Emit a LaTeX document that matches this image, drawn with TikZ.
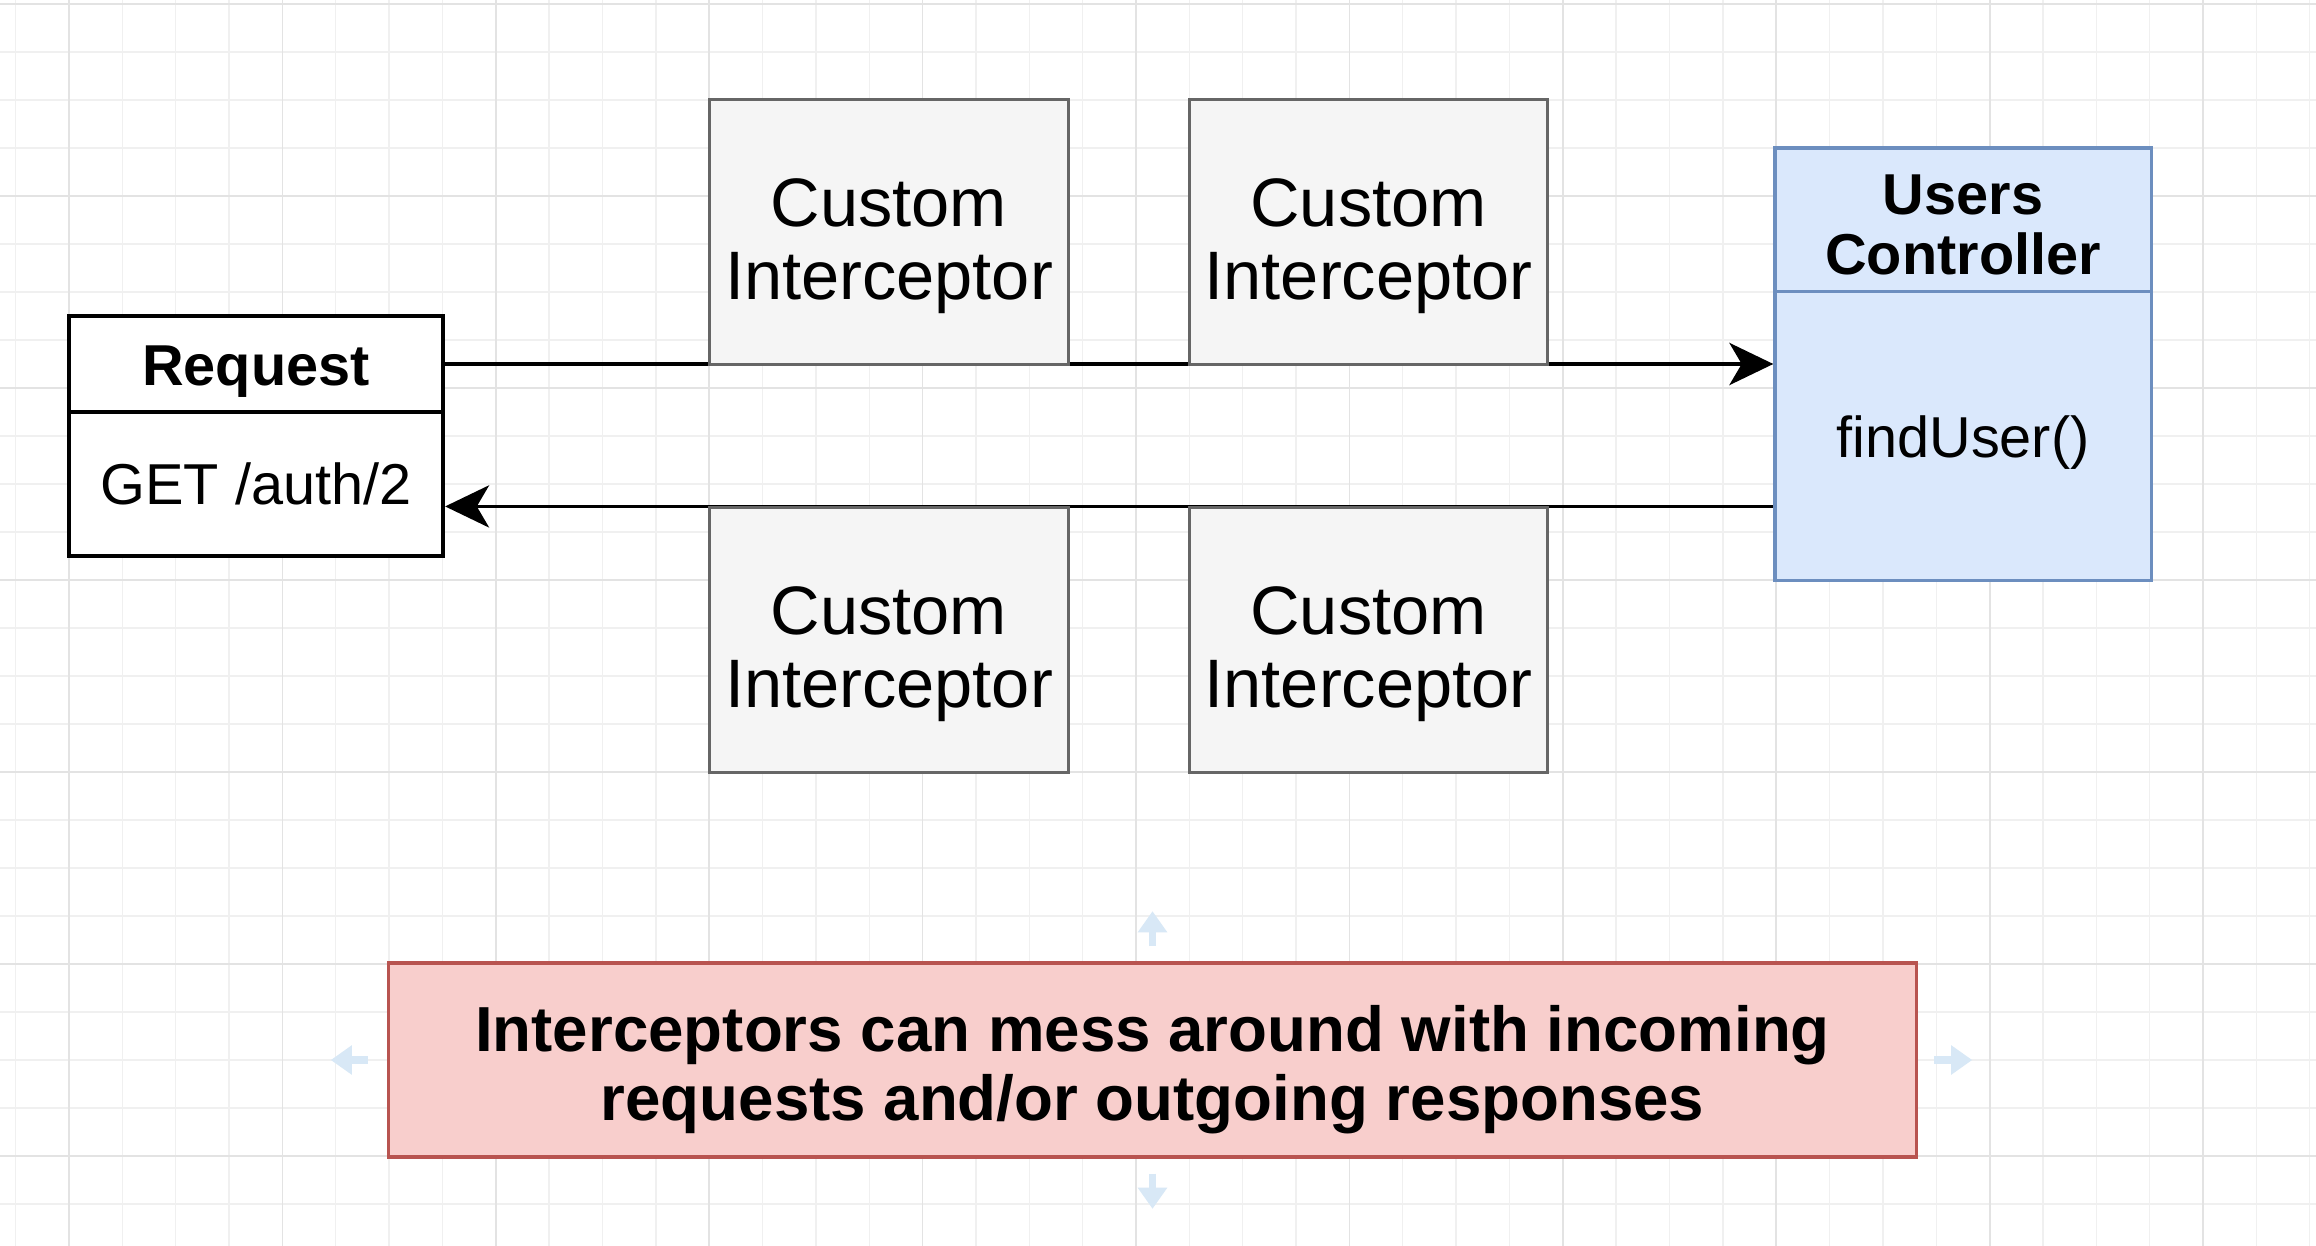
\documentclass[tikz,border=0pt]{standalone}
\usepackage{fontspec}
\setmainfont{Liberation Sans}
\usetikzlibrary{arrows.meta}

\definecolor{gridminor}{HTML}{F0F0F0}
\definecolor{gridmajor}{HTML}{E3E3E3}
\definecolor{icfill}{HTML}{F5F5F5}
\definecolor{icdraw}{HTML}{666666}
\definecolor{ctrlfill}{HTML}{DAE8FC}
\definecolor{ctrldraw}{HTML}{6C8EBF}
\definecolor{notefill}{HTML}{F8CECC}
\definecolor{notedraw}{HTML}{B85450}
\definecolor{hintblue}{HTML}{D8E8F6}

\pgfdeclarelayer{back}
\pgfsetlayers{back,main}

\tikzset{
  reqbox/.style={draw=black, line width=1.15pt, fill=white,
    minimum width=3.74cm, inner sep=0pt},
  icbox/.style={draw=icdraw, line width=0.85pt, fill=icfill,
    minimum width=3.58cm, minimum height=2.64cm, inner sep=0pt,
    align=center, font=\fontsize{19.5}{20.7}\selectfont,
    text height=42.3pt, text depth=4.1pt},
  ctrlbox/.style={draw=ctrldraw, line width=0.9pt, fill=ctrlfill,
    minimum width=3.76cm, inner sep=0pt, align=center},
  notebox/.style={draw=notedraw, line width=1pt, fill=notefill,
    minimum width=15.27cm, minimum height=1.94cm, inner sep=0pt,
    align=center, font=\fontsize{18.1}{19.6}\selectfont\bfseries,
    text height=38pt, text depth=3.8pt},
  plaintext/.style={font=\fontsize{16.4}{17}\selectfont},
  boldtext/.style={font=\fontsize{16.4}{17}\selectfont\bfseries},
  flow/.style={line width=0.95pt,
    -{Stealth[length=12.5pt,width=12pt,inset=3.5pt]}},
  hint/.style={hintblue, line width=2.2pt,
    -{Triangle[length=6pt,width=8pt]}}
}

\begin{document}
\begin{tikzpicture}[x=0.01cm,y=-0.01cm]
\useasboundingbox (0,0) rectangle (2316,1246);

% grid paper
\begin{pgfonlayer}{back}
\fill[white] (0,0) rectangle (2316,1246);
\foreach \i in {-1,...,42}
  \draw[gridminor, line width=0.4pt] ({69+\i*53.35},0) -- ++(0,1246);
\foreach \j in {0,...,25}
  \draw[gridminor, line width=0.4pt] (0,{4+\j*48}) -- ++(2316,0);
\foreach \i in {0,4,...,40}
  \draw[gridmajor, line width=0.5pt] ({69+\i*53.35},0) -- ++(0,1246);
\foreach \j in {0,4,...,24}
  \draw[gridmajor, line width=0.5pt] (0,{4+\j*48}) -- ++(2316,0);
\end{pgfonlayer}

% request
\node[reqbox, boldtext, minimum height=0.96cm, text height=15.8pt, text depth=3.4pt]
  (reqtitle) at (256,364) {Request};
\node[reqbox, plaintext, minimum height=1.44cm] (reqbody) at (256,484) {GET /auth/2};

% interceptors
\node[icbox] (intop1) at (889,232) {Custom\\Interceptor};
\node[icbox] (intop2) at (1368.5,232) {Custom\\Interceptor};
\node[icbox] (inbot1) at (889,640) {Custom\\Interceptor};
\node[icbox] (inbot2) at (1368.5,640) {Custom\\Interceptor};

% controller
\node[ctrlbox, boldtext, minimum height=1.44cm, text height=31pt, text depth=0pt]
  (ctrltitle) at (1963,220) {Users\\Controller};
\node[ctrlbox, plaintext, minimum height=2.88cm, text height=16pt, text depth=3.5pt]
  (ctrlbody) at (1963,436) {findUser()};

% flow in and out
\begin{pgfonlayer}{back}
\draw[flow] (reqtitle.east) -- (reqtitle.east -| ctrlbody.west);
\draw[flow] (inbot1.north -| ctrlbody.west) -- (inbot1.north -| reqbody.east);
\end{pgfonlayer}

% note
\node[notebox] (note) at (1152.5,1060)
  {Interceptors can mess around with incoming\\requests and/or outgoing responses};
\draw[hint] ([yshift=0.15cm]note.north) -- ++(0,-35);
\draw[hint] ([yshift=-0.15cm]note.south) -- ++(0,35);
\draw[hint] ([xshift=-0.19cm]note.west) -- ++(-37,0);
\draw[hint] ([xshift=0.16cm]note.east) -- ++(38,0);
\end{tikzpicture}
\end{document}
